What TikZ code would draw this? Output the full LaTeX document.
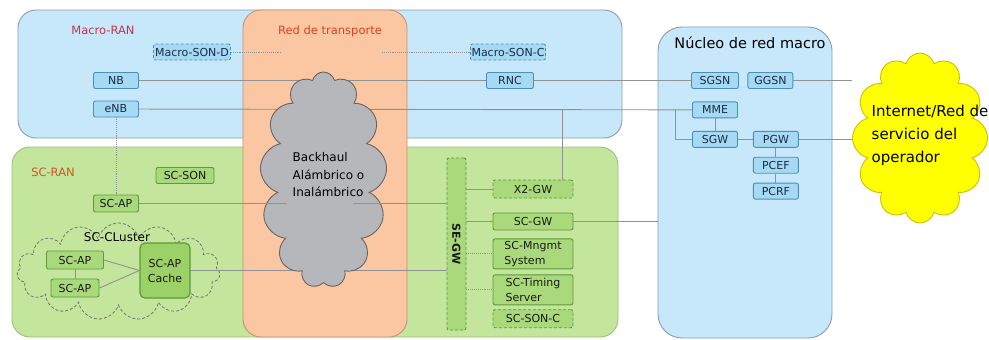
\documentclass[tikz,border=0pt]{standalone}
\usepackage{fontspec}
\setmainfont{DejaVu Sans}
\usetikzlibrary{positioning,shapes.symbols}
\definecolor{ranblue}{HTML}{C7E8FA}
\definecolor{ranedge}{HTML}{8E9CA8}
\definecolor{scgreen}{HTML}{C4E69C}
\definecolor{scedge}{HTML}{9DBD7E}
\definecolor{trorange}{HTML}{FBC6A2}
\definecolor{tredge}{HTML}{C29379}
\definecolor{nodeblue}{HTML}{A6DAF4}
\definecolor{nodeblueedge}{HTML}{4F8DB3}
\definecolor{nodegreen}{HTML}{A9D97A}
\definecolor{nodegreenedge}{HTML}{5E9A3C}
\definecolor{cachegreen}{HTML}{9BD166}
\definecolor{bhgray}{HTML}{B5B7BB}
\definecolor{bhedge}{HTML}{6A6461}
\definecolor{inetyellow}{HTML}{FFFF00}
\definecolor{inetedge}{HTML}{C9C200}
\definecolor{linkgray}{HTML}{8F9192}
\definecolor{labelred}{HTML}{C4324C}
\definecolor{labelorange}{HTML}{D0532A}
\definecolor{navytext}{HTML}{1B2B44}

\begin{document}
\begin{tikzpicture}[x=1pt, y=-1pt, thick,
    region/.style = {draw, line width=0.9pt, rounded corners=18pt, inner sep=0pt},
    blk/.style = {draw, line width=0.9pt, rounded corners=2pt, inner sep=1pt, minimum height=16pt, font=\fontsize{11}{12}\selectfont},
    mbox/.style = {blk, fill=nodeblue, draw=nodeblueedge, text=navytext},
    sbox/.style = {blk, fill=nodegreen, draw=nodegreenedge, text=black!90},
    son/.style = {densely dashed},
    link/.style = {draw=linkgray, line width=0.9pt},
    dlink/.style = {link, densely dotted},
    tag/.style = {font=\fontsize{11.5}{13}\selectfont}]
    \useasboundingbox (0,0) rectangle (989,340);
    \fill[white] (0,0) rectangle (989,340);

    \node[region, fill=ranblue, draw=ranedge, minimum width=604pt, minimum height=128pt] (macroran) at (320,74) {};
    \node[region, fill=scgreen, draw=scedge, minimum width=606pt, minimum height=190pt] (scran) at (315,242) {};
    \node[region, fill=ranblue, draw=ranedge, minimum width=174pt, minimum height=311pt, rounded corners=24pt] (core) at (745,182.5) {};
    \node[region, fill=trorange, draw=tredge, minimum width=164pt, minimum height=327pt] (transport) at (325,173.5) {};

    \node[tag, text=labelred] (macrolbl) at (103,30) {Macro-RAN};
    \node[tag, text=labelorange] (sclbl) at (53,172) {SC-RAN};
    \node[tag, text=labelorange!80!red] (trlbl) at (330,31) {Red de transporte};
    \node[font=\fontsize{14.5}{16}\selectfont] (corelbl) at (750,43) {Núcleo de red macro};

    \node[mbox, son, minimum width=77pt] (sond) at (192,52) {Macro-SON-D};
    \node[mbox, son, minimum width=75pt] (sonc) at (508,52) {Macro-SON-C};
    \node[mbox, minimum width=45pt] (nb) at (116,80.5) {NB};
    \node[mbox, minimum width=45pt] (enb) at (116,109) {eNB};
    \node[mbox, minimum width=47pt] (rnc) at (510,80.5) {RNC};

    \node[mbox, minimum width=47pt] (sgsn) at (715,80.5) {SGSN};
    \node[mbox, minimum width=45pt, right=8.5pt of sgsn] (ggsn) {GGSN};
    \node[mbox, minimum width=45pt, below=12.5pt of sgsn] (mme) {MME};
    \node[mbox, minimum width=45pt, below=12.5pt of mme] (sgw) {SGW};
    \node[mbox, minimum width=45pt, right=15pt of sgw] (pgw) {PGW};
    \node[mbox, minimum width=45pt, below=9pt of pgw] (pcef) {PCEF};
    \node[mbox, minimum width=45pt, below=9pt of pcef] (pcrf) {PCRF};

    \node[sbox, minimum width=58pt] (scson) at (185,175.5) {SC-SON};
    \node[sbox, minimum width=45pt, minimum height=17pt] (scap) at (116,203.5) {SC-AP};
    \node[cloud, cloud puffs=15, cloud ignores aspect, draw=black!55, densely dashed, line width=0.8pt, minimum width=203pt, minimum height=97pt] (cluster) at (118.5,271.5) {};
    \node[font=\fontsize{12}{14}\selectfont] (clusterlbl) at (117,237) {SC-CLuster};
    \node[sbox, minimum width=57pt, minimum height=18pt] (ap1) at (75,260) {SC-AP};
    \node[sbox, minimum width=48pt, minimum height=18pt] (ap2) at (75,288) {SC-AP};
    \node[sbox, fill=cachegreen, minimum width=50pt, minimum height=55pt, rounded corners=5pt, line width=1.2pt, align=center, font=\fontsize{11}{15}\selectfont] (cache) at (165,270.5) {SC-AP\\Cache};

    \node[sbox, son, minimum width=19pt, minimum height=172pt, inner sep=0pt, font=\fontsize{11}{12}\selectfont\bfseries] (segw) at (456.5,244) {\rotatebox{-90}{SE-GW}};
    \node[sbox, son, minimum width=80pt, minimum height=18pt] (x2gw) at (533,189) {X2-GW};
    \node[sbox, minimum width=80pt, minimum height=17pt] (scgw) at (533,221.5) {SC-GW};
    \node[sbox, minimum width=80pt, minimum height=30pt, align=left, font=\fontsize{11}{15}\selectfont, below=8pt of scgw] (mngmt) {SC-Mngmt\\System};
    \node[sbox, minimum width=80pt, minimum height=30pt, align=left, font=\fontsize{11}{15}\selectfont, below=5pt of mngmt] (timing) {SC-Timing\\Server};
    \node[sbox, son, minimum width=80pt, minimum height=18pt, below=4pt of timing] (scsonc) {SC-SON-C};

    \coordinate (sondend) at (281,52);
    \coordinate (soncend) at (382,52);
    \coordinate (x2j) at (562,109);
    \coordinate (mmej) at (675,109);
    \coordinate (bhin) at (287,203.5);
    \coordinate (bhout) at (353,203.5);
    \coordinate (inetw) at (852,138);

    \draw[dlink] (sond) -- (sondend);
    \draw[dlink] (soncend) -- (sonc);
    \draw[link] (nb) -- (rnc);
    \draw[link] (rnc) -- (sgsn);
    \draw[link] (enb) -- (mme);
    \draw[link] (x2j) -- (x2j |- x2gw.north);
    \draw[link] (mmej) |- (sgw);
    \draw[link] (mme) -- (sgw);
    \draw[link] (sgw) -- (pgw);
    \draw[link] (pgw) -- (pcef);
    \draw[link] (pcef) -- (pcrf);
    \draw[link] (ggsn.east) -- (ggsn.east -| inetw);
    \draw[link] (pgw.east) -- (pgw.east -| inetw);
    \draw[dlink] (enb) -- (scap);
    \draw[link] (ap1) -- (ap2);
    \draw[link] (ap1.east) -- (cache.west);
    \draw[link] (ap2.east) -- (cache.west);
    \draw[link] (cache.east) -- (cache.east -| segw.west);
    \draw[link] (x2gw.west -| segw.east) -- (x2gw);
    \draw[link] (scgw.west -| segw.east) -- (scgw);
    \draw[dlink] (mngmt.west -| segw.east) -- (mngmt);
    \draw[dlink] (timing.west -| segw.east) -- (timing);
    \draw[link] (scgw.east) -- (scgw.east -| core.west);

    \node[cloud, cloud puffs=13, cloud ignores aspect, fill=bhgray, draw=bhedge, line width=0.9pt, minimum width=127pt, minimum height=216pt] (backhaul) at (323.5,180) {};
    \node[font=\fontsize{12}{17.5}\selectfont, align=left, anchor=west] (bhtext) at (289,175) {Backhaul\\Alámbrico o\\Inalámbrico};
    \draw[link] (scap) -- (bhin);
    \draw[link] (bhout) -- (bhout -| segw.west);

    \node[cloud, cloud puffs=12, cloud ignores aspect, fill=inetyellow, draw=inetedge, line width=0.9pt, minimum width=135pt, minimum height=170pt] (inet) at (920,138) {};
    \node[font=\fontsize{15}{23}\selectfont, align=left, anchor=west] (inettext) at (868,135) {Internet/Red de\\servicio del\\operador};
\end{tikzpicture}
\end{document}
